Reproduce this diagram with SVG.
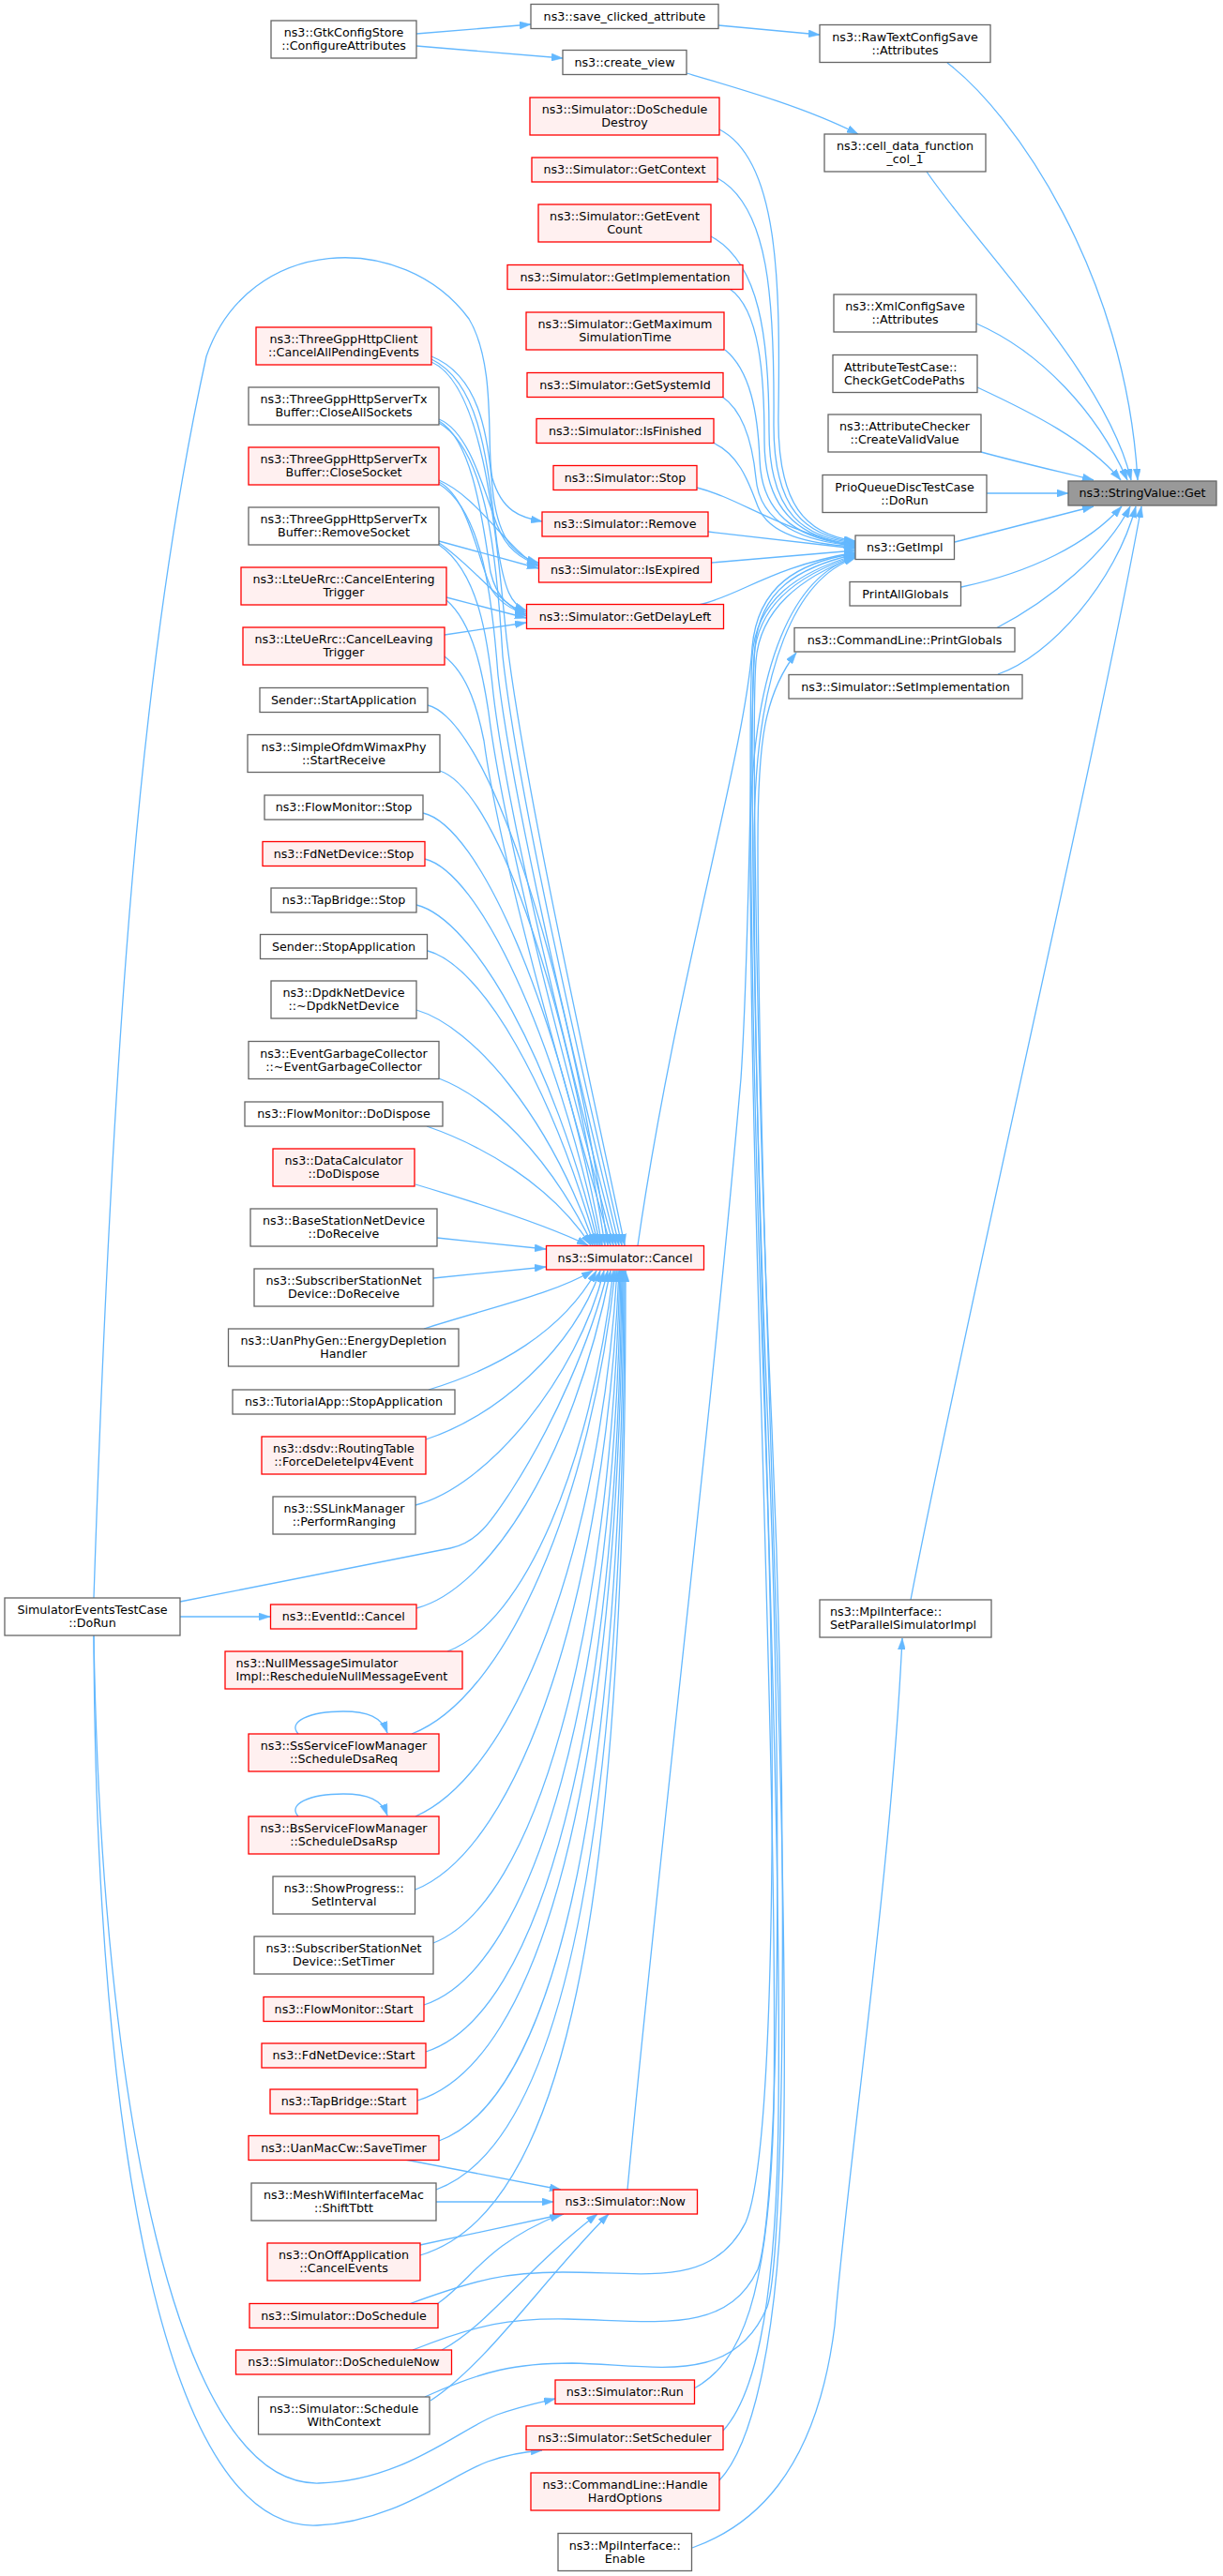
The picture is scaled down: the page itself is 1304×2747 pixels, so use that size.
<svg xmlns="http://www.w3.org/2000/svg" width="1304" height="2747" viewBox="0 0 1304 2747">
<style>
rect{stroke-width:1.3}
.n rect{fill:#fff;stroke:#666}
.r rect{fill:#fff0f0;stroke:#f00}
.root rect{fill:#999;stroke:#666}
text{font-family:"DejaVu Sans","Liberation Sans",sans-serif;font-size:12.7px;fill:#000;text-anchor:middle}
.l text{text-anchor:start}
#edges path{fill:none;stroke:#63b8ff;stroke-width:1.3;marker-end:url(#a)}
</style>
<defs>
<marker id="a" viewBox="0 0 12 8" refX="12" refY="4" markerWidth="12" markerHeight="8" markerUnits="userSpaceOnUse" orient="auto">
<path d="M0,0 L12,4 L0,8 z" fill="#63b8ff" stroke="#63b8ff" stroke-width="0.5"/>
</marker>
</defs>
<rect x="0" y="0" width="1304" height="2747" fill="#fff"/>
<g id="edges">
<path d="M1010,67 C1080,120 1200,290 1213,512"/>
<path d="M988,183 C1040,260 1180,400 1206,512"/>
<path d="M1041,345 C1110,375 1170,440 1202,512"/>
<path d="M1042,413 C1100,440 1160,470 1195,512"/>
<path d="M1046,482 C1090,494 1130,503 1166,512"/>
<path d="M1052,526 L1139,526"/>
<path d="M1018,578 L1166,540"/>
<path d="M1025,626 C1100,610 1160,580 1196,540"/>
<path d="M1062,670 C1120,640 1180,590 1205,540"/>
<path d="M1064,719 C1120,700 1190,620 1211,540"/>
<path d="M971,1706 C1030,1400 1170,800 1217,540"/>
<path d="M444,36 L566,26"/>
<path d="M444,49 L600,62"/>
<path d="M766,27 L874,37"/>
<path d="M732,78 C790,95 860,115 915,143"/>
<path d="M767,138 C830,170 832,300 830,440 C828,540 860,570 912,577"/>
<path d="M765,190 C820,220 826,320 825,450 C824,545 860,572 912,578"/>
<path d="M758,252 C810,280 820,360 820,460 C820,550 860,574 912,579"/>
<path d="M778,308 C810,330 815,400 815,470 C815,550 860,576 912,580"/>
<path d="M773,373 C800,395 808,440 810,490 C812,555 860,577 912,581"/>
<path d="M770,423 C795,440 803,480 806,510 C810,560 860,578 912,582"/>
<path d="M760,472 C790,485 800,520 808,540 C820,570 860,580 912,583"/>
<path d="M743,520 C790,532 820,560 912,584"/>
<path d="M755,567 L912,585"/>
<path d="M759,600 L912,587"/>
<path d="M745,645 C790,635 820,605 912,589"/>
<path d="M680,1328 C720,1050 795,800 802,690 C808,625 850,600 912,590"/>
<path d="M669,2335 C700,2000 760,1500 790,1150 C800,1000 800,750 805,690 C810,630 850,605 912,591"/>
<path d="M436,2457 C510,2430 540,2423 600,2423 C690,2423 760,2440 795,2370 C825,2300 830,1900 815,1500 C800,1100 798,760 802,700 C806,640 850,610 912,592"/>
<path d="M440,2506 C510,2478 545,2472 605,2473 C700,2475 775,2490 808,2420 C832,2350 835,1900 818,1500 C802,1100 800,760 804,700 C808,645 852,612 912,593"/>
<path d="M453,2556 C515,2528 550,2520 610,2520 C700,2522 782,2545 818,2460 C838,2400 840,1900 822,1500 C805,1100 802,760 806,705 C810,650 854,615 912,594"/>
<path d="M740,2547 C790,2520 820,2450 825,2250 C830,1900 800,1300 800,900 C800,700 850,612 912,594"/>
<path d="M771,2592 C800,2560 828,2480 830,2250 C834,1900 804,1300 804,900 C804,705 852,615 912,595"/>
<path d="M767,2645 C800,2610 834,2500 836,2250 C840,1900 808,1300 808,900 C808,790 815,740 849,696"/>
<path d="M738,2717 C800,2695 870,2640 890,2480 C905,2300 950,2000 962,1747"/>
<path d="M460,380 C510,400 520,460 525,520 C530,570 545,592 574,600"/>
<path d="M468,447 C500,460 515,520 530,560 C540,585 555,596 574,602"/>
<path d="M468,512 C510,530 540,585 574,604"/>
<path d="M468,577 L574,606"/>
<path d="M460,383 C515,410 520,500 530,580 C538,630 545,645 561,651"/>
<path d="M468,449 C505,470 515,560 523,610 C530,640 545,648 561,653"/>
<path d="M468,514 C500,530 510,600 525,630 C535,645 548,651 561,655"/>
<path d="M468,579 C500,600 530,640 561,657"/>
<path d="M476,637 L561,659"/>
<path d="M474,677 L561,664"/>
<path d="M100,1704 C120,1100 150,700 220,380 C265,250 430,245 500,340 C530,390 518,480 525,510 C535,545 555,552 578,556"/>
<path d="M460,386 C515,410 528,560 540,680 C560,850 640,1200 666,1328"/>
<path d="M468,451 C520,480 530,600 536,700 C555,870 635,1200 663,1328"/>
<path d="M468,516 C515,545 525,640 531,720 C550,880 630,1200 660,1328"/>
<path d="M468,581 C510,610 520,680 526,740 C545,900 625,1200 657,1328"/>
<path d="M476,640 C505,665 515,720 521,760 C540,910 620,1200 654,1328"/>
<path d="M474,700 C500,720 510,760 516,790 C535,930 615,1200 651,1328"/>
<path d="M456,752 C516,767 600,1000 648,1328"/>
<path d="M469,822 C525,840 600,1040 645,1328"/>
<path d="M451,867 C510,880 595,1070 642,1328"/>
<path d="M453,916 C510,930 592,1100 640,1328"/>
<path d="M444,965 C505,980 590,1130 638,1328"/>
<path d="M456,1014 C515,1030 588,1160 636,1328"/>
<path d="M444,1077 C505,1095 585,1190 634,1328"/>
<path d="M468,1150 C520,1170 585,1230 632,1328"/>
<path d="M455,1201 C510,1220 585,1260 630,1328"/>
<path d="M443,1263 C500,1280 580,1305 627,1328"/>
<path d="M466,1320 L582,1332"/>
<path d="M462,1363 L582,1351"/>
<path d="M452,1417 C520,1395 590,1380 632,1355"/>
<path d="M457,1482 C530,1460 600,1420 636,1355"/>
<path d="M454,1535 C530,1510 610,1440 640,1355"/>
<path d="M443,1605 C520,1585 615,1470 644,1355"/>
<path d="M192,1708 L480,1651 C510,1645 525,1620 545,1590 C590,1520 630,1430 648,1355"/>
<path d="M444,1715 C520,1695 610,1560 651,1355"/>
<path d="M477,1761 C560,1730 630,1560 654,1355"/>
<path d="M439,1849 C540,1810 630,1600 656,1355"/>
<path d="M443,1937 C550,1890 640,1650 658,1355"/>
<path d="M443,2015 C555,1970 645,1700 660,1355"/>
<path d="M462,2072 C570,2030 650,1750 661,1355"/>
<path d="M452,2138 C570,2100 655,1800 662,1355"/>
<path d="M454,2188 C575,2150 658,1850 663,1355"/>
<path d="M445,2240 C575,2200 660,1900 664,1355"/>
<path d="M468,2283 C585,2240 663,1950 665,1355"/>
<path d="M465,2335 C590,2290 666,2000 666,1355"/>
<path d="M448,2405 C600,2360 668,2050 667,1355"/>
<path d="M432,2303 L598,2335"/>
<path d="M465,2348 L590,2348"/>
<path d="M448,2394 L601,2361"/>
<path d="M466,2457 C505,2430 515,2395 598,2361"/>
<path d="M471,2506 C520,2480 560,2420 637,2361"/>
<path d="M459,2560 C520,2520 580,2430 649,2361"/>
<path d="M192,1724 L288,1724"/>
<path d="M100,1744 C108,2250 190,2652 340,2648 C430,2646 490,2590 530,2575 C555,2566 575,2562 592,2558"/>
<path d="M100,1744 C102,2300 180,2700 338,2693 C420,2690 480,2640 520,2625 C545,2616 565,2614 578,2613"/>
<path d="M318,1849 C306,1836 330,1825 366,1825 C392,1825 407,1831 413,1848"/>
<path d="M318,1937 C306,1924 330,1913 366,1913 C392,1913 407,1919 413,1936"/>
</g>
<g id="n_gtk" class="n"><rect x="289" y="22" width="155" height="40"/><text x="366.5" y="39.3">ns3::GtkConfigStore</text><text x="366.5" y="53.3">::ConfigureAttributes</text></g>
<g id="n_save" class="n"><rect x="566" y="4.5" width="200" height="26"/><text x="666" y="21.8">ns3::save_clicked_attribute</text></g>
<g id="n_rawtext" class="n"><rect x="874" y="26.5" width="182" height="40"/><text x="965" y="43.8">ns3::RawTextConfigSave</text><text x="965" y="57.8">::Attributes</text></g>
<g id="n_createview" class="n"><rect x="600" y="53.5" width="132" height="26"/><text x="666" y="70.8">ns3::create_view</text></g>
<g id="n_celldata" class="n"><rect x="879" y="143" width="172" height="40"/><text x="965" y="160.3">ns3::cell_data_function</text><text x="965" y="174.3">_col_1</text></g>
<g id="n_doscheduledestroy" class="r"><rect x="565" y="104" width="202" height="40"/><text x="666" y="121.3">ns3::Simulator::DoSchedule</text><text x="666" y="135.3">Destroy</text></g>
<g id="n_getcontext" class="r"><rect x="567" y="168" width="198" height="26"/><text x="666" y="185.3">ns3::Simulator::GetContext</text></g>
<g id="n_geteventcount" class="r"><rect x="574" y="218" width="184" height="40"/><text x="666" y="235.3">ns3::Simulator::GetEvent</text><text x="666" y="249.3">Count</text></g>
<g id="n_getimplementation" class="r"><rect x="541" y="282.5" width="251" height="26"/><text x="666.5" y="299.8">ns3::Simulator::GetImplementation</text></g>
<g id="n_getmaximum" class="r"><rect x="561" y="333" width="211" height="40"/><text x="666.5" y="350.3">ns3::Simulator::GetMaximum</text><text x="666.5" y="364.3">SimulationTime</text></g>
<g id="n_getsystemid" class="r"><rect x="562" y="397.5" width="209" height="26"/><text x="666.5" y="414.8">ns3::Simulator::GetSystemId</text></g>
<g id="n_isfinished" class="r"><rect x="572" y="446.5" width="189" height="26"/><text x="666.5" y="463.8">ns3::Simulator::IsFinished</text></g>
<g id="n_stop" class="r"><rect x="590" y="496.5" width="153" height="26"/><text x="666.5" y="513.8">ns3::Simulator::Stop</text></g>
<g id="n_remove" class="r"><rect x="578" y="546" width="177" height="26"/><text x="666.5" y="563.3">ns3::Simulator::Remove</text></g>
<g id="n_isexpired" class="r"><rect x="574.5" y="595" width="184" height="26"/><text x="666.5" y="612.3">ns3::Simulator::IsExpired</text></g>
<g id="n_getdelayleft" class="r"><rect x="561.5" y="644.5" width="210" height="26"/><text x="666.5" y="661.8">ns3::Simulator::GetDelayLeft</text></g>
<g id="n_xml" class="n"><rect x="889" y="314" width="152" height="40"/><text x="965" y="331.3">ns3::XmlConfigSave</text><text x="965" y="345.3">::Attributes</text></g>
<g id="n_attrtest" class="n l"><rect x="888" y="378.5" width="154" height="40"/><text x="900" y="395.8">AttributeTestCase::</text><text x="900" y="409.8">CheckGetCodePaths</text></g>
<g id="n_attrchecker" class="n"><rect x="883" y="442" width="163" height="40"/><text x="964.5" y="459.3">ns3::AttributeChecker</text><text x="964.5" y="473.3">::CreateValidValue</text></g>
<g id="n_prioqueue" class="n"><rect x="877" y="506.5" width="175" height="40"/><text x="964.5" y="523.8">PrioQueueDiscTestCase</text><text x="964.5" y="537.8">::DoRun</text></g>
<g id="n_stringvalue" class="root"><rect x="1139" y="513" width="158" height="26"/><text x="1218" y="530.3">ns3::StringValue::Get</text></g>
<g id="n_getimpl" class="n"><rect x="912" y="571" width="105.5" height="25.5"/><text x="964.75" y="588.05">ns3::GetImpl</text></g>
<g id="n_printallglobals" class="n"><rect x="906" y="620.5" width="118.5" height="25.5"/><text x="965.25" y="637.55">PrintAllGlobals</text></g>
<g id="n_printglobals" class="n"><rect x="847" y="669.5" width="235" height="25.5"/><text x="964.5" y="686.55">ns3::CommandLine::PrintGlobals</text></g>
<g id="n_setimplementation" class="n"><rect x="841" y="719.5" width="249" height="25.5"/><text x="965.5" y="736.55">ns3::Simulator::SetImplementation</text></g>
<g id="n_cancelallpending" class="r"><rect x="273" y="349" width="187" height="40"/><text x="366.5" y="366.3">ns3::ThreeGppHttpClient</text><text x="366.5" y="380.3">::CancelAllPendingEvents</text></g>
<g id="n_closeallsockets" class="n"><rect x="265" y="413" width="203" height="40"/><text x="366.5" y="430.3">ns3::ThreeGppHttpServerTx</text><text x="366.5" y="444.3">Buffer::CloseAllSockets</text></g>
<g id="n_closesocket" class="r"><rect x="265" y="477" width="203" height="40"/><text x="366.5" y="494.3">ns3::ThreeGppHttpServerTx</text><text x="366.5" y="508.3">Buffer::CloseSocket</text></g>
<g id="n_removesocket" class="n"><rect x="265" y="541" width="203" height="40"/><text x="366.5" y="558.3">ns3::ThreeGppHttpServerTx</text><text x="366.5" y="572.3">Buffer::RemoveSocket</text></g>
<g id="n_cancelentering" class="r"><rect x="257" y="605" width="219" height="40"/><text x="366.5" y="622.3">ns3::LteUeRrc::CancelEntering</text><text x="366.5" y="636.3">Trigger</text></g>
<g id="n_cancelleaving" class="r"><rect x="259" y="669" width="215" height="40"/><text x="366.5" y="686.3">ns3::LteUeRrc::CancelLeaving</text><text x="366.5" y="700.3">Trigger</text></g>
<g id="n_senderstart" class="n"><rect x="277" y="733.5" width="179" height="26"/><text x="366.5" y="750.8">Sender::StartApplication</text></g>
<g id="n_simpleofdm" class="n"><rect x="264" y="783.5" width="205" height="40"/><text x="366.5" y="800.8">ns3::SimpleOfdmWimaxPhy</text><text x="366.5" y="814.8">::StartReceive</text></g>
<g id="n_flowmonstop" class="n"><rect x="282" y="848" width="169" height="26"/><text x="366.5" y="865.3">ns3::FlowMonitor::Stop</text></g>
<g id="n_fdnetstop" class="r"><rect x="280" y="897.5" width="173" height="26"/><text x="366.5" y="914.8">ns3::FdNetDevice::Stop</text></g>
<g id="n_tapbridgestop" class="n"><rect x="289" y="947" width="155" height="26"/><text x="366.5" y="964.3">ns3::TapBridge::Stop</text></g>
<g id="n_senderstop" class="n"><rect x="277.5" y="996.5" width="178" height="26"/><text x="366.5" y="1013.8">Sender::StopApplication</text></g>
<g id="n_dpdk" class="n"><rect x="289" y="1046" width="155" height="40"/><text x="366.5" y="1063.3">ns3::DpdkNetDevice</text><text x="366.5" y="1077.3">::~DpdkNetDevice</text></g>
<g id="n_egc" class="n"><rect x="265" y="1110.5" width="203" height="40"/><text x="366.5" y="1127.8">ns3::EventGarbageCollector</text><text x="366.5" y="1141.8">::~EventGarbageCollector</text></g>
<g id="n_flowmondispose" class="n"><rect x="261" y="1175" width="211" height="26"/><text x="366.5" y="1192.3">ns3::FlowMonitor::DoDispose</text></g>
<g id="n_datacalc" class="r"><rect x="291" y="1225" width="151" height="40"/><text x="366.5" y="1242.3">ns3::DataCalculator</text><text x="366.5" y="1256.3">::DoDispose</text></g>
<g id="n_basestation" class="n"><rect x="267" y="1289" width="199" height="40"/><text x="366.5" y="1306.3">ns3::BaseStationNetDevice</text><text x="366.5" y="1320.3">::DoReceive</text></g>
<g id="n_ssdoreceive" class="n"><rect x="271" y="1353" width="191" height="40"/><text x="366.5" y="1370.3">ns3::SubscriberStationNet</text><text x="366.5" y="1384.3">Device::DoReceive</text></g>
<g id="n_uanphygen" class="n"><rect x="243.5" y="1417" width="245.5" height="40"/><text x="366.25" y="1434.3">ns3::UanPhyGen::EnergyDepletion</text><text x="366.25" y="1448.3">Handler</text></g>
<g id="n_tutorialapp" class="n"><rect x="248" y="1482" width="237" height="26"/><text x="366.5" y="1499.3">ns3::TutorialApp::StopApplication</text></g>
<g id="n_dsdv" class="r"><rect x="279" y="1532" width="175" height="40"/><text x="366.5" y="1549.3">ns3::dsdv::RoutingTable</text><text x="366.5" y="1563.3">::ForceDeleteIpv4Event</text></g>
<g id="n_sslinkmanager" class="n"><rect x="291" y="1596" width="152" height="40"/><text x="367" y="1613.3">ns3::SSLinkManager</text><text x="367" y="1627.3">::PerformRanging</text></g>
<g id="n_doruntest" class="n"><rect x="5" y="1704" width="187" height="40"/><text x="98.5" y="1721.3">SimulatorEventsTestCase</text><text x="98.5" y="1735.3">::DoRun</text></g>
<g id="n_eventidcancel" class="r"><rect x="288.5" y="1711" width="155.5" height="26"/><text x="366.25" y="1728.3">ns3::EventId::Cancel</text></g>
<g id="n_nullmessage" class="r l"><rect x="240" y="1761" width="253" height="40"/><text x="251.5" y="1778.3">ns3::NullMessageSimulator</text><text x="251.5" y="1792.3">Impl::RescheduleNullMessageEvent</text></g>
<g id="n_dsareq" class="r"><rect x="265" y="1849" width="203" height="40"/><text x="366.5" y="1866.3">ns3::SsServiceFlowManager</text><text x="366.5" y="1880.3">::ScheduleDsaReq</text></g>
<g id="n_dsarsp" class="r"><rect x="265" y="1937" width="203" height="40"/><text x="366.5" y="1954.3">ns3::BsServiceFlowManager</text><text x="366.5" y="1968.3">::ScheduleDsaRsp</text></g>
<g id="n_showprogress" class="n"><rect x="291" y="2001" width="151.5" height="40"/><text x="366.75" y="2018.3">ns3::ShowProgress::</text><text x="366.75" y="2032.3">SetInterval</text></g>
<g id="n_settimer" class="n"><rect x="271" y="2065" width="191" height="40"/><text x="366.5" y="2082.3">ns3::SubscriberStationNet</text><text x="366.5" y="2096.3">Device::SetTimer</text></g>
<g id="n_flowmonstart" class="r"><rect x="281" y="2129.5" width="171" height="26"/><text x="366.5" y="2146.8">ns3::FlowMonitor::Start</text></g>
<g id="n_fdnetstart" class="r"><rect x="279" y="2179" width="175" height="26"/><text x="366.5" y="2196.3">ns3::FdNetDevice::Start</text></g>
<g id="n_tapbridgestart" class="r"><rect x="288" y="2228" width="157" height="26"/><text x="366.5" y="2245.3">ns3::TapBridge::Start</text></g>
<g id="n_savetimer" class="r"><rect x="265" y="2277.5" width="203" height="26"/><text x="366.5" y="2294.8">ns3::UanMacCw::SaveTimer</text></g>
<g id="n_shifttbtt" class="n"><rect x="268" y="2328" width="197" height="40"/><text x="366.5" y="2345.3">ns3::MeshWifiInterfaceMac</text><text x="366.5" y="2359.3">::ShiftTbtt</text></g>
<g id="n_onoff" class="r"><rect x="285" y="2392" width="163" height="40"/><text x="366.5" y="2409.3">ns3::OnOffApplication</text><text x="366.5" y="2423.3">::CancelEvents</text></g>
<g id="n_doschedule" class="r"><rect x="266" y="2456.5" width="201" height="26"/><text x="366.5" y="2473.8">ns3::Simulator::DoSchedule</text></g>
<g id="n_doschedulenow" class="r"><rect x="251.5" y="2506" width="230" height="26"/><text x="366.5" y="2523.3">ns3::Simulator::DoScheduleNow</text></g>
<g id="n_schedulewithcontext" class="n"><rect x="275.5" y="2556" width="182.5" height="40"/><text x="366.75" y="2573.3">ns3::Simulator::Schedule</text><text x="366.75" y="2587.3">WithContext</text></g>
<g id="n_cancel" class="r"><rect x="582.5" y="1328.5" width="168" height="25.5"/><text x="666.5" y="1345.55">ns3::Simulator::Cancel</text></g>
<g id="n_now" class="r"><rect x="590" y="2335" width="153.5" height="26"/><text x="666.75" y="2352.3">ns3::Simulator::Now</text></g>
<g id="n_run" class="r"><rect x="592" y="2538" width="148.5" height="25.5"/><text x="666.25" y="2555.05">ns3::Simulator::Run</text></g>
<g id="n_setscheduler" class="r"><rect x="561" y="2587" width="210" height="25.5"/><text x="666" y="2604.05">ns3::Simulator::SetScheduler</text></g>
<g id="n_handlehardoptions" class="r"><rect x="566" y="2637" width="201" height="40"/><text x="666.5" y="2654.3">ns3::CommandLine::Handle</text><text x="666.5" y="2668.3">HardOptions</text></g>
<g id="n_mpienable" class="n"><rect x="595" y="2701.5" width="142.5" height="40"/><text x="666.25" y="2718.8">ns3::MpiInterface::</text><text x="666.25" y="2732.8">Enable</text></g>
<g id="n_setparallel" class="n l"><rect x="874" y="1706" width="183" height="40"/><text x="885" y="1723.3">ns3::MpiInterface::</text><text x="885" y="1737.3">SetParallelSimulatorImpl</text></g>
</svg>
